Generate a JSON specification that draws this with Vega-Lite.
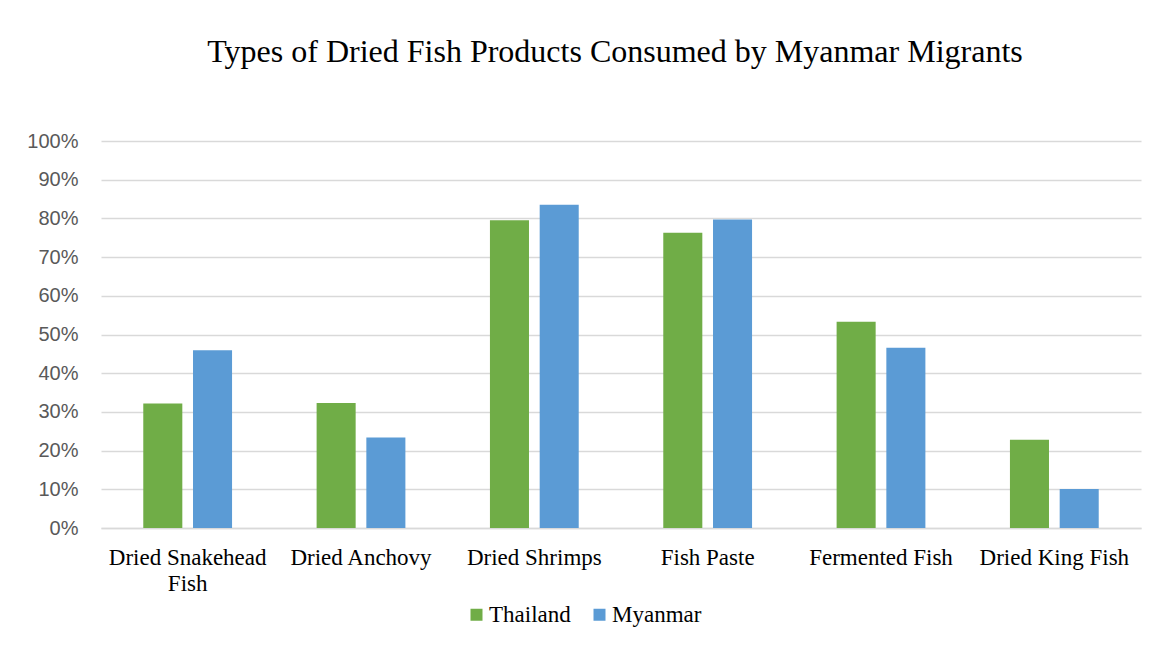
{
  "$schema": "https://vega.github.io/schema/vega-lite/v6.json",
  "autosize": {"type": "none"},
  "width": 1040,
  "height": 387,
  "padding": {"left": 101, "top": 141, "right": 10, "bottom": 118},
  "background": "white",
  "title": {
    "text": "Types of Dried Fish Products Consumed by Myanmar Migrants",
    "font": "Liberation Serif",
    "fontSize": 32,
    "fontWeight": "normal",
    "color": "#000000",
    "anchor": "middle",
    "baseline": "alphabetic",
    "offset": 37,
    "dx": -6
  },
  "data": {
    "values": [
      {"product": "Dried Snakehead Fish", "country": "Thailand", "share": 0.322},
      {"product": "Dried Snakehead Fish", "country": "Myanmar", "share": 0.459},
      {"product": "Dried Anchovy", "country": "Thailand", "share": 0.323},
      {"product": "Dried Anchovy", "country": "Myanmar", "share": 0.234},
      {"product": "Dried Shrimps", "country": "Thailand", "share": 0.795},
      {"product": "Dried Shrimps", "country": "Myanmar", "share": 0.835},
      {"product": "Fish Paste", "country": "Thailand", "share": 0.763},
      {"product": "Fish Paste", "country": "Myanmar", "share": 0.797},
      {"product": "Fermented Fish", "country": "Thailand", "share": 0.533},
      {"product": "Fermented Fish", "country": "Myanmar", "share": 0.466},
      {"product": "Dried King Fish", "country": "Thailand", "share": 0.228},
      {"product": "Dried King Fish", "country": "Myanmar", "share": 0.101}
    ]
  },
  "mark": {"type": "bar"},
  "encoding": {
    "x": {
      "field": "product",
      "type": "nominal",
      "sort": null,
      "title": null,
      "scale": {"paddingInner": 0, "paddingOuter": 0},
      "axis": {
        "labelAngle": 0,
        "labelFont": "Liberation Serif",
        "labelFontSize": 23,
        "labelColor": "#000000",
        "labelPadding": 18,
        "labelLineHeight": 26,
        "labelBaseline": "top",
        "labelExpr": "datum.label == 'Dried Snakehead Fish' ? ['Dried Snakehead', 'Fish'] : datum.label",
        "ticks": false,
        "domain": true,
        "domainColor": "#d9d9d9",
        "domainWidth": 1.5,
        "grid": false
      }
    },
    "xOffset": {
      "field": "country",
      "type": "nominal",
      "sort": ["Thailand", "Myanmar"],
      "scale": {"paddingInner": 0.215, "paddingOuter": 0.85}
    },
    "y": {
      "field": "share",
      "type": "quantitative",
      "title": null,
      "scale": {"domain": [0, 1], "nice": false},
      "axis": {
        "values": [0, 0.1, 0.2, 0.3, 0.4, 0.5, 0.6, 0.7, 0.8, 0.9, 1],
        "format": ".0%",
        "labelFont": "Liberation Sans",
        "labelFontSize": 20,
        "labelColor": "#595959",
        "labelPadding": 23,
        "ticks": false,
        "domain": false,
        "grid": true,
        "gridColor": "#d9d9d9",
        "gridWidth": 1.5
      }
    },
    "color": {
      "field": "country",
      "type": "nominal",
      "sort": ["Thailand", "Myanmar"],
      "scale": {"domain": ["Thailand", "Myanmar"], "range": ["#70AD47", "#5B9BD5"]},
      "legend": {
        "title": null,
        "orient": "none",
        "direction": "horizontal",
        "legendX": 364,
        "legendY": 462,
        "symbolType": "square",
        "symbolSize": 144,
        "symbolStrokeWidth": 0,
        "symbolOpacity": 1,
        "labelFont": "Liberation Serif",
        "labelFontSize": 23,
        "labelColor": "#000000",
        "labelOffset": 1,
        "columnPadding": 17
      }
    }
  },
  "config": {
    "view": {"stroke": null}
  }
}
